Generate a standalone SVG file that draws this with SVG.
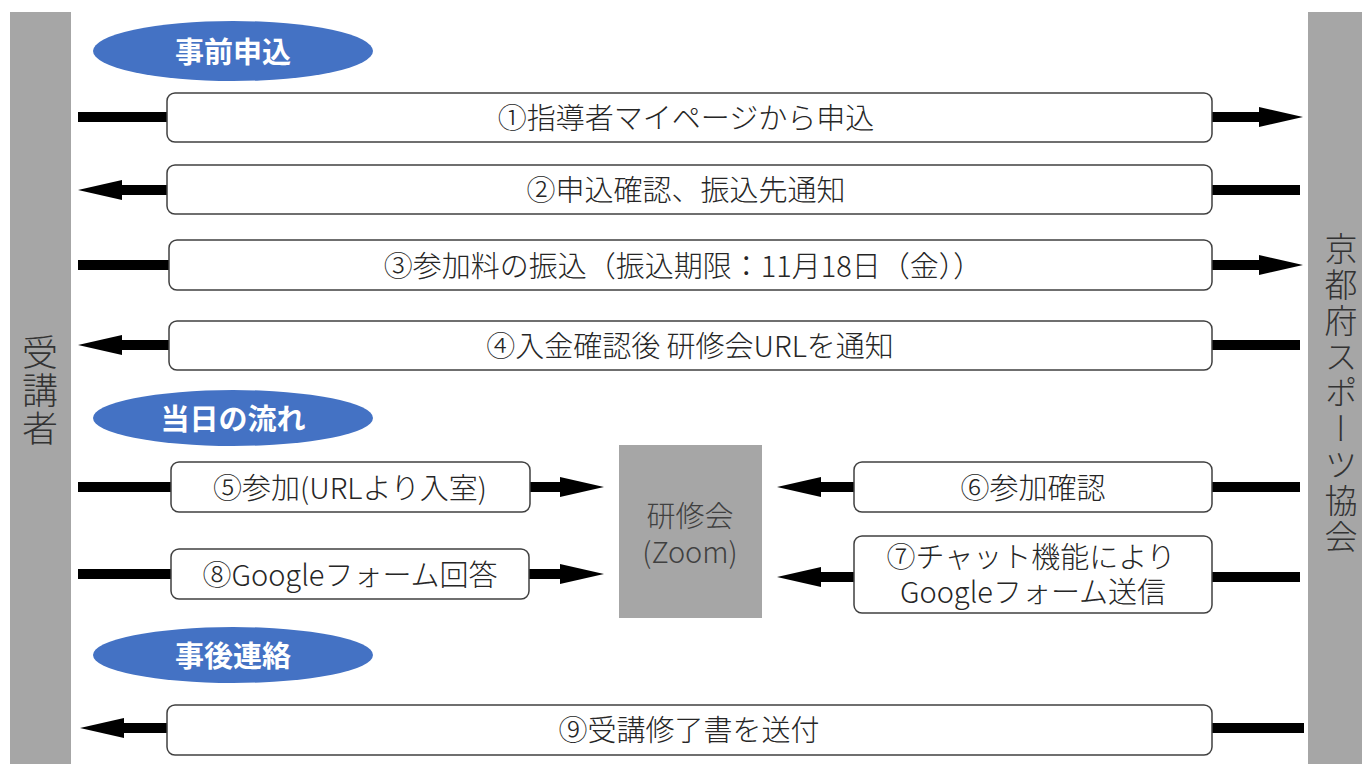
<svg xmlns="http://www.w3.org/2000/svg" width="1362" height="764" viewBox="0 0 1362 764">
<style>
.bar{fill:#a6a6a6}
.box{fill:#fff;stroke:#404040;stroke-width:1.5}
.lbl{font-family:"Noto Sans CJK JP","Noto Sans",sans-serif;font-size:29px;font-weight:300;fill:#262626;text-anchor:middle;dominant-baseline:central}
.sec{fill:#4472c4}
.sect{font-family:"Noto Sans CJK JP","Noto Sans",sans-serif;font-size:29px;font-weight:bold;fill:#fff;text-anchor:middle;dominant-baseline:central}
.side{font-family:"Noto Sans CJK JP",sans-serif;font-weight:300;fill:#333;writing-mode:vertical-rl;text-orientation:upright}
.ln{stroke:#000;stroke-width:10;fill:none}
.zoom{fill:#a6a6a6}
.zt{font-family:"Noto Sans CJK JP","Noto Sans",sans-serif;font-size:29px;font-weight:300;fill:#404040;text-anchor:middle;dominant-baseline:central}
</style>
<defs>
<marker id="ah" markerUnits="userSpaceOnUse" markerWidth="44" markerHeight="24" refX="0" refY="12" orient="auto">
<path d="M0,2 L44,12 L0,22 Z" fill="#000"/>
</marker>
</defs>
<g id="lane-left">
<rect class="bar" x="10" y="12" width="61" height="752"/>
<text class="side" x="40" y="334" font-size="36" letter-spacing="2">受講者</text>
</g>
<g id="lane-right">
<rect class="bar" x="1308" y="12" width="54" height="752"/>
<text class="side" x="1341" y="232" font-size="33" letter-spacing="3">京都府スポーツ協会</text>
</g>
<g id="sec1"><ellipse class="sec" cx="233" cy="51" rx="140" ry="30"/><text class="sect" x="233" y="50">事前申込</text></g>
<g id="sec2"><ellipse class="sec" cx="233" cy="418" rx="140" ry="28"/><text class="sect" x="233" y="417">当日の流れ</text></g>
<g id="sec3"><ellipse class="sec" cx="233" cy="655" rx="140" ry="28"/><text class="sect" x="233" y="654">事後連絡</text></g>
<g id="connectors">
<line class="ln" x1="78" y1="117" x2="167" y2="117"/>
<line class="ln" x1="1212" y1="117" x2="1259" y2="117" marker-end="url(#ah)"/>
<line class="ln" x1="167" y1="190" x2="122" y2="190" marker-end="url(#ah)"/>
<line class="ln" x1="1212" y1="190" x2="1300" y2="190"/>
<line class="ln" x1="78" y1="265" x2="169" y2="265"/>
<line class="ln" x1="1212" y1="265" x2="1259" y2="265" marker-end="url(#ah)"/>
<line class="ln" x1="169" y1="345" x2="122" y2="345" marker-end="url(#ah)"/>
<line class="ln" x1="1212" y1="345" x2="1300" y2="345"/>
<line class="ln" x1="78" y1="487" x2="171" y2="487"/>
<line class="ln" x1="530" y1="487" x2="560" y2="487" marker-end="url(#ah)"/>
<line class="ln" x1="854" y1="487" x2="821" y2="487" marker-end="url(#ah)"/>
<line class="ln" x1="1212" y1="487" x2="1300" y2="487"/>
<line class="ln" x1="78" y1="574" x2="171" y2="574"/>
<line class="ln" x1="529" y1="574" x2="560" y2="574" marker-end="url(#ah)"/>
<line class="ln" x1="854" y1="577" x2="821" y2="577" marker-end="url(#ah)"/>
<line class="ln" x1="1212" y1="577" x2="1300" y2="577"/>
<line class="ln" x1="167" y1="728" x2="124" y2="728" marker-end="url(#ah)"/>
<line class="ln" x1="1212" y1="728" x2="1304" y2="728"/>
</g>
<g id="n1"><rect class="box" x="167" y="93" width="1045" height="49" rx="8"/><text class="lbl" x="686" y="116">①指導者マイページから申込</text></g>
<g id="n2"><rect class="box" x="167" y="165" width="1045" height="49" rx="8"/><text class="lbl" x="686" y="188">②申込確認、振込先通知</text></g>
<g id="n3"><rect class="box" x="169" y="240" width="1043" height="50" rx="8"/><text class="lbl" x="683" y="264">③参加料の振込（振込期限：11月18日（金））</text></g>
<g id="n4"><rect class="box" x="169" y="321" width="1043" height="49" rx="8"/><text class="lbl" x="690" y="344">④入金確認後 研修会URLを通知</text></g>
<g id="n5"><rect class="box" x="171" y="462" width="359" height="50" rx="8"/><text class="lbl" x="350" y="486">⑤参加(URLより入室)</text></g>
<g id="n8"><rect class="box" x="171" y="549" width="358" height="50" rx="8"/><text class="lbl" x="350" y="573">⑧Googleフォーム回答</text></g>
<g id="zoom"><rect class="zoom" x="619" y="445" width="143" height="173"/><text class="zt" x="690" y="514">研修会</text><text class="zt" x="690" y="550">(Zoom)</text></g>
<g id="n6"><rect class="box" x="854" y="462" width="358" height="50" rx="8"/><text class="lbl" x="1033" y="486">⑥参加確認</text></g>
<g id="n7"><rect class="box" x="854" y="536" width="358" height="77" rx="8"/><text class="lbl" x="1031" y="555">⑦チャット機能により</text><text class="lbl" x="1033" y="590">Googleフォーム送信</text></g>
<g id="n9"><rect class="box" x="167" y="705" width="1045" height="50" rx="8"/><text class="lbl" x="689" y="728">⑨受講修了書を送付</text></g>
</svg>
